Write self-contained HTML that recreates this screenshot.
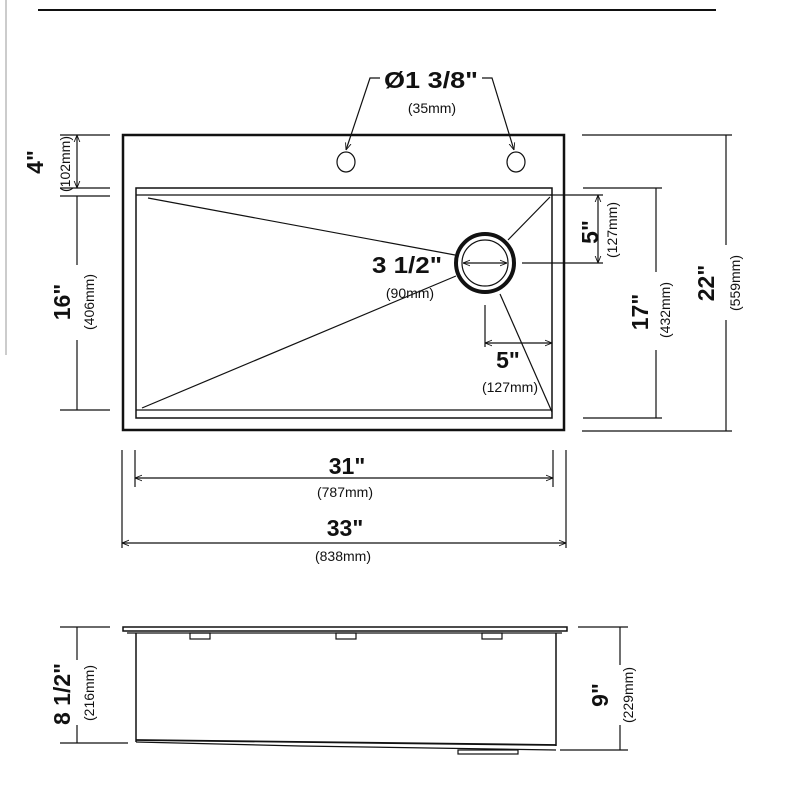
<!DOCTYPE html>
<html><head><meta charset="utf-8"><style>
html,body{margin:0;padding:0;background:#fff;width:800px;height:800px;overflow:hidden}
text{font-family:"Liberation Sans",sans-serif;fill:#111}
.b{font-weight:bold;font-size:23px}
.s{font-size:14px}
</style></head><body>
<svg width="800" height="800" viewBox="0 0 800 800" xmlns="http://www.w3.org/2000/svg">
<defs>
<marker id="a" viewBox="0 0 10 10" refX="10" refY="5" markerWidth="6" markerHeight="6" orient="auto-start-reverse"><path d="M0,1 L10,5 L0,9" fill="none" stroke="#111" stroke-width="1.2"/></marker>
</defs>
<g stroke="#111" fill="none" stroke-width="1.2">
<line x1="38" y1="10" x2="716" y2="10" stroke-width="2"/>
<line x1="6" y1="0" x2="6" y2="355" stroke="#ccc" stroke-width="2"/>
<rect x="123" y="135" width="441" height="295" stroke-width="2.5"/>
<rect x="136" y="188" width="416" height="230" stroke-width="1.5"/>
<line x1="136" y1="195" x2="552" y2="195"/>
<line x1="136" y1="410" x2="552" y2="410"/>
<ellipse cx="346" cy="162" rx="9" ry="10"/>
<ellipse cx="516" cy="162" rx="9" ry="10"/>
<polyline points="346,150 370,78 380,78" marker-start="url(#a)"/>
<polyline points="514,150 492,78 482,78" marker-start="url(#a)"/>
<circle cx="485" cy="263" r="29" stroke-width="4"/>
<circle cx="485" cy="263" r="23"/>
<line x1="148" y1="198" x2="455" y2="255"/>
<line x1="142" y1="408" x2="456" y2="276"/>
<line x1="550" y1="197" x2="508" y2="240"/>
<line x1="500" y1="294" x2="552" y2="412"/>
<line x1="463" y1="263" x2="507" y2="263" marker-start="url(#a)" marker-end="url(#a)"/>
<line x1="522" y1="263" x2="603" y2="263"/>
<line x1="550" y1="195" x2="603" y2="195"/>
<line x1="598" y1="195" x2="598" y2="263" marker-start="url(#a)" marker-end="url(#a)"/>
<line x1="485" y1="305" x2="485" y2="347"/>
<line x1="485" y1="343" x2="552" y2="343" marker-start="url(#a)" marker-end="url(#a)"/>
<line x1="583" y1="188" x2="662" y2="188"/>
<line x1="583" y1="418" x2="662" y2="418"/>
<line x1="656" y1="188" x2="656" y2="272"/>
<line x1="656" y1="350" x2="656" y2="418"/>
<line x1="582" y1="135" x2="732" y2="135"/>
<line x1="582" y1="431" x2="732" y2="431"/>
<line x1="726" y1="135" x2="726" y2="245"/>
<line x1="726" y1="320" x2="726" y2="431"/>
<line x1="60" y1="135" x2="110" y2="135"/>
<line x1="60" y1="188" x2="110" y2="188"/>
<line x1="60" y1="196" x2="110" y2="196"/>
<line x1="60" y1="410" x2="110" y2="410"/>
<line x1="77" y1="135" x2="77" y2="188" marker-start="url(#a)" marker-end="url(#a)"/>
<line x1="77" y1="196" x2="77" y2="265"/>
<line x1="77" y1="340" x2="77" y2="410"/>
<line x1="135" y1="450" x2="135" y2="487"/>
<line x1="553" y1="450" x2="553" y2="487"/>
<line x1="135" y1="478" x2="553" y2="478" marker-start="url(#a)" marker-end="url(#a)"/>
<line x1="122" y1="450" x2="122" y2="548"/>
<line x1="566" y1="450" x2="566" y2="548"/>
<line x1="122" y1="543" x2="566" y2="543" marker-start="url(#a)" marker-end="url(#a)"/>
<rect x="123" y="627" width="444" height="4" stroke-width="1.5"/>
<line x1="127" y1="633" x2="562" y2="633"/>
<line x1="136" y1="633" x2="136" y2="742" stroke-width="1.5"/>
<line x1="556" y1="633" x2="556" y2="746" stroke-width="1.5"/>
<path d="M136,740 L556,745" stroke-width="1.8"/>
<path d="M136,742 L300,746 L556,750" />
<rect x="458" y="750" width="60" height="4" stroke-width="1.2"/>
<rect x="190" y="633" width="20" height="6"/>
<rect x="336" y="633" width="20" height="6"/>
<rect x="482" y="633" width="20" height="6"/>
<line x1="60" y1="627" x2="110" y2="627"/>
<line x1="60" y1="743" x2="128" y2="743"/>
<line x1="77" y1="627" x2="77" y2="660"/>
<line x1="77" y1="725" x2="77" y2="743"/>
<line x1="578" y1="627" x2="628" y2="627"/>
<line x1="560" y1="750" x2="628" y2="750"/>
<line x1="620" y1="627" x2="620" y2="665"/>
<line x1="620" y1="725" x2="620" y2="750"/>
</g>
<g>
<text class="b" x="431" y="88" text-anchor="middle" textLength="94" lengthAdjust="spacingAndGlyphs">Ø1 3/8"</text>
<text class="s" x="432" y="113" text-anchor="middle">(35mm)</text>
<text class="b" x="407" y="273" text-anchor="middle" textLength="70" lengthAdjust="spacingAndGlyphs">3 1/2"</text>
<text class="s" x="410" y="298" text-anchor="middle">(90mm)</text>
<text class="b" x="508" y="368" text-anchor="middle">5"</text>
<text class="s" x="510" y="392" text-anchor="middle">(127mm)</text>
<text class="b" x="347" y="474" text-anchor="middle">31"</text>
<text class="s" x="345" y="497" text-anchor="middle">(787mm)</text>
<text class="b" x="345" y="536" text-anchor="middle">33"</text>
<text class="s" x="343" y="561" text-anchor="middle">(838mm)</text>
<text class="b" transform="translate(43,162) rotate(-90)" text-anchor="middle">4"</text>
<text class="s" transform="translate(70,164) rotate(-90)" text-anchor="middle">(102mm)</text>
<text class="b" transform="translate(70,302) rotate(-90)" text-anchor="middle">16"</text>
<text class="s" transform="translate(94,302) rotate(-90)" text-anchor="middle">(406mm)</text>
<text class="b" transform="translate(598,232) rotate(-90)" text-anchor="middle">5"</text>
<text class="s" transform="translate(617,230) rotate(-90)" text-anchor="middle">(127mm)</text>
<text class="b" transform="translate(648,312) rotate(-90)" text-anchor="middle">17"</text>
<text class="s" transform="translate(670,310) rotate(-90)" text-anchor="middle">(432mm)</text>
<text class="b" transform="translate(714,283) rotate(-90)" text-anchor="middle">22"</text>
<text class="s" transform="translate(740,283) rotate(-90)" text-anchor="middle">(559mm)</text>
<text class="b" transform="translate(70,694) rotate(-90)" text-anchor="middle">8 1/2"</text>
<text class="s" transform="translate(94,693) rotate(-90)" text-anchor="middle">(216mm)</text>
<text class="b" transform="translate(608,695) rotate(-90)" text-anchor="middle">9"</text>
<text class="s" transform="translate(633,695) rotate(-90)" text-anchor="middle">(229mm)</text>
</g>
</svg>
</body></html>
